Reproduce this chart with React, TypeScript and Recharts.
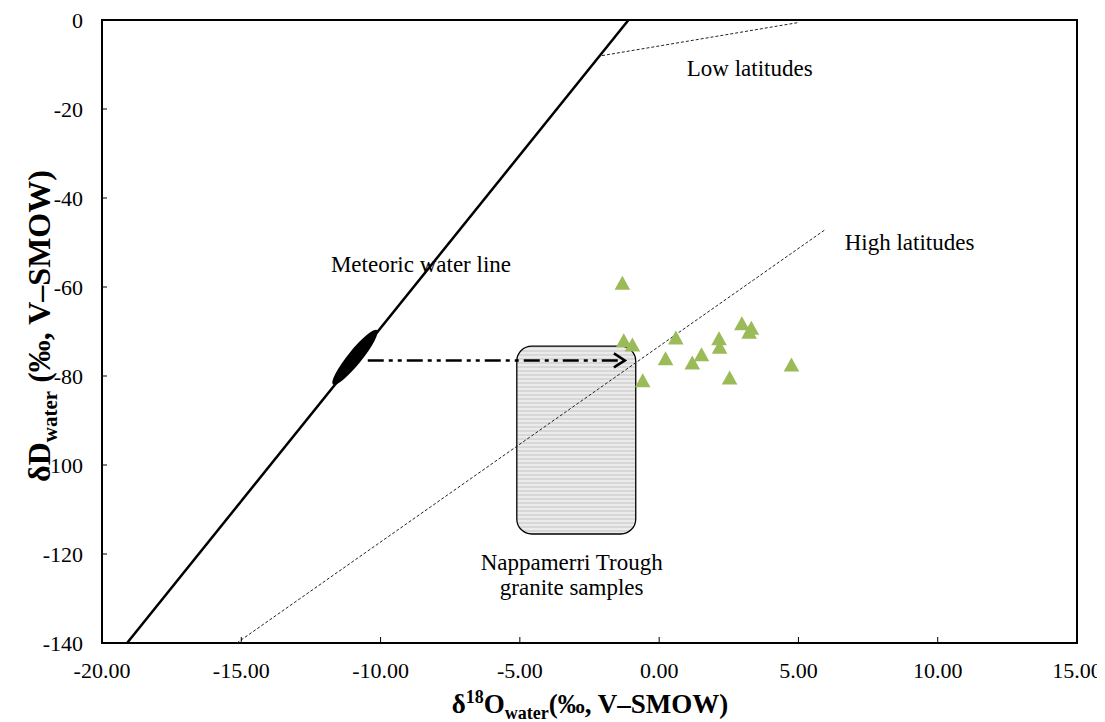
import {
  ComposedChart,
  Line,
  ReferenceArea,
  Scatter,
  XAxis,
  YAxis,
} from "recharts"

const FONT = "'Liberation Serif', 'Times New Roman', serif"

const X_TICKS = [-20, -15, -10, -5, 0, 5, 10, 15]
const Y_TICKS = [-140, -120, -100, -80, -60, -40, -20, 0]

// granite samples
const SAMPLE_O = [-1.32, -1.27, -0.96, -0.59, 0.23, 0.6, 1.19, 1.52, 2.15, 2.17, 2.53, 2.97, 3.31, 3.23, 4.75]
const SAMPLE_D = [-59.6, -72.5, -73.5, -81.5, -76.6, -71.9, -77.5, -75.7, -72.1, -74.0, -80.9, -68.7, -69.7, -70.6, -78.0]

const MWL_O = [-19.1, -1.1]
const MWL_D = [-140, 0]
const LOW_O = [-2.05, 4.97]
const LOW_D = [-8, -0.6]
const HIGH_O = [-15.16, 5.94]
const HIGH_D = [-140, -47.2]
const ARROW_O = [-10.46, -1.23]
const ARROW_D = [-76.5, -76.5]

const ELLIPSE_O = [-10.92]
const ELLIPSE_D = [-75.8]

const BOX_O = [-5.11, -0.84]
const BOX_D = [-115.5, -73.3]

const LABEL_TEXT = ["Meteoric water line", "Low latitudes", "High latitudes", "Nappamerri Trough", "granite samples"]
const LABEL_O = [-8.55, 3.25, 8.99, -3.14, -3.14]
const LABEL_D = [-54.8, -10.8, -49.9, -121.8, -127.4]

const pts = (xs: number[], ys: number[]) => xs.map((x, i) => ({ x, y: ys[i] }))

const samples = pts(SAMPLE_O, SAMPLE_D)
const mwl = pts(MWL_O, MWL_D)
const low = pts(LOW_O, LOW_D)
const high = pts(HIGH_O, HIGH_D)
const arrow = pts(ARROW_O, ARROW_D)
const ellipse = pts(ELLIPSE_O, ELLIPSE_D)
const labels = LABEL_TEXT.map((text, i) => ({ x: LABEL_O[i], y: LABEL_D[i], text }))

function XTick({ x, y, payload }: any) {
  return (
    <g>
      <line x1={x} x2={x} y1={y} y2={y - 6} stroke="#000" strokeWidth={1} />
      <text x={x} y={y + 35} textAnchor="middle" fontSize={22} fontFamily={FONT} fill="#000">
        {Number(payload.value).toFixed(2)}
      </text>
    </g>
  )
}

function YTick({ x, y, payload }: any) {
  return (
    <g>
      <line x1={x} x2={x + 5} y1={y} y2={y} stroke="#000" strokeWidth={1} />
      <text x={x - 19} y={y + 7.5} textAnchor="end" fontSize={22} fontFamily={FONT} fill="#000">
        {payload.value}
      </text>
    </g>
  )
}

function Triangle({ cx, cy }: any) {
  return (
    <polygon
      points={`${cx},${cy - 9.5} ${cx + 7.8},${cy + 4.5} ${cx - 7.8},${cy + 4.5}`}
      fill="#9bbb59"
    />
  )
}

function Blob({ cx, cy }: any) {
  return <ellipse cx={cx} cy={cy} rx={35} ry={7} fill="#000" transform={`rotate(-51 ${cx} ${cy})`} />
}

function Note({ cx, cy, payload }: any) {
  return (
    <text x={cx} y={cy + 8} textAnchor="middle" fontSize={23} fontFamily={FONT} fill="#000">
      {payload.text}
    </text>
  )
}

function ArrowDot(p: any) {
  if (p.index !== arrow.length - 1) return <g key={p.key ?? `a${p.index}`} />
  return (
    <path
      key={p.key ?? `a${p.index}`}
      d={`M${p.cx - 11},${p.cy - 7} L${p.cx},${p.cy} L${p.cx - 11},${p.cy + 7}`}
      fill="none"
      stroke="#000"
      strokeWidth={2.5}
    />
  )
}

function GraniteBox(p: any) {
  return (
    <g>
      <defs>
        <pattern id="stripes" width="4" height="4" patternUnits="userSpaceOnUse">
          <rect width="4" height="4" fill="#ebebeb" />
          <rect y="2" width="4" height="2" fill="#d7d7d7" />
        </pattern>
      </defs>
      <rect x={p.x} y={p.y} width={p.width} height={p.height} rx={15} ry={15}
        fill="url(#stripes)" stroke="#000" strokeWidth={1.3} />
    </g>
  )
}

export default function App() {
  return (
    <div style={{ position: "relative", width: 1097, height: 714, fontFamily: FONT }}>
      <ComposedChart width={1097} height={714} margin={{ top: 12, right: 28, bottom: 0, left: 0 }}>
        <XAxis
          type="number"
          dataKey="x"
          domain={[-20, 15]}
          ticks={X_TICKS}
          allowDataOverflow
          axisLine={false}
          tickLine={false}
          tickSize={0}
          tickMargin={0}
          height={79}
          tick={<XTick />}
          interval={0}
        />
        <YAxis
          type="number"
          dataKey="y"
          domain={[-140, 0]}
          ticks={Y_TICKS}
          allowDataOverflow
          axisLine={false}
          tickLine={false}
          tickSize={0}
          tickMargin={0}
          width={94}
          tick={<YTick />}
          interval={0}
        />
        <ReferenceArea x1={BOX_O[0]} x2={BOX_O[1]} y1={BOX_D[0]} y2={BOX_D[1]} shape={<GraniteBox />} />
        <Line data={mwl} dataKey="y" stroke="#000" strokeWidth={2.5} dot={false} isAnimationActive={false} />
        <Line data={low} dataKey="y" stroke="#222" strokeWidth={1} strokeDasharray="3 2" dot={false} isAnimationActive={false} />
        <Line data={high} dataKey="y" stroke="#222" strokeWidth={1} strokeDasharray="3 2" dot={false} isAnimationActive={false} />
        <Line data={arrow} dataKey="y" stroke="#000" strokeWidth={2.5} strokeDasharray="16 5 4 5 4 5"
          dot={ArrowDot} activeDot={false} isAnimationActive={false} />
        <Scatter data={ellipse} dataKey="y" shape={<Blob />} isAnimationActive={false} />
        <Scatter data={samples} dataKey="y" shape={<Triangle />} isAnimationActive={false} />
        <Scatter data={labels} dataKey="y" shape={<Note />} isAnimationActive={false} />
        <ReferenceArea x1={-20} x2={15} y1={-140} y2={0} fill="none" fillOpacity={0} stroke="#000" strokeWidth={2} />
      </ComposedChart>
      <div
        style={{
          position: "absolute",
          left: 34,
          top: 318,
          transform: "translate(-50%, -50%) rotate(-90deg)",
          whiteSpace: "nowrap",
          fontWeight: "bold",
          fontSize: 32,
          lineHeight: 1,
        }}
      >
        δD<sub style={{ fontSize: 21 }}>water</sub> (‰, V–SMOW)
      </div>
      <div
        style={{
          position: "absolute",
          left: 582,
          top: 697,
          transform: "translate(-50%, -50%)",
          whiteSpace: "nowrap",
          fontWeight: "bold",
          fontSize: 27,
          lineHeight: 1,
        }}
      >
        δ<sup style={{ fontSize: 18 }}>18</sup>O<sub style={{ fontSize: 18 }}>water</sub>(‰, V–SMOW)
      </div>
    </div>
  )
}
